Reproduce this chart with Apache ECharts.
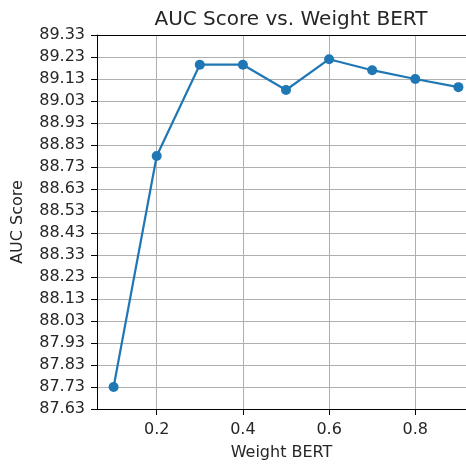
<!DOCTYPE html>
<html>
<head>
<meta charset="utf-8">
<script src="https://cdn.jsdelivr.net/npm/echarts@6/dist/echarts.min.js"></script>
<style>
  html, body { margin: 0; padding: 0; background: #fff; }
  #chart { width: 466px; height: 466px; }
</style>
</head>
<body>
<div id="chart"></div>
<script>
const weights = [0.1, 0.2, 0.3, 0.4, 0.5, 0.6, 0.7, 0.8, 0.9];
const aucScores = [87.73, 88.78, 89.195, 89.195, 89.08, 89.22, 89.17, 89.13, 89.093];
const xTicks = [0.2, 0.4, 0.6, 0.8];

const font = 'DejaVu Sans';
const gridColor = '#b0b0b0';
const textColor = '#262626';

// the plot runs past the right edge of the picture, so the x range is cut at 466px
const xMin = 0.0615;
const xMax = 0.9176;

const chart = echarts.init(document.getElementById('chart'));

const option = {
  animation: false,
  title: {
    text: 'AUC Score vs. Weight BERT',
    left: 286,
    top: 5,
    textAlign: 'center',
    textStyle: { fontFamily: font, fontSize: 20, fontWeight: 'normal', color: textColor }
  },
  grid: {
    left: 97,
    top: 35,
    right: 0,
    bottom: 57,
    containLabel: false
  },
  xAxis: [{
    type: 'value',
    min: xMin,
    max: xMax,
    name: 'Weight BERT',
    nameLocation: 'middle',
    nameGap: 36,
    nameTextStyle: { fontFamily: font, fontSize: 16, color: textColor },
    axisLine: { lineStyle: { color: '#000', width: 1 } },
    axisTick: { show: true, inside: false, length: 6, customValues: xTicks, lineStyle: { color: '#000' } },
    axisLabel: {
      customValues: xTicks,
      margin: 13,
      fontFamily: font, fontSize: 16, color: textColor,
      formatter: v => v.toFixed(1)
    },
    splitLine: { show: true, lineStyle: { color: gridColor, width: 1 } }
  }, {
    // top spine only
    type: 'value',
    position: 'top',
    min: xMin,
    max: xMax,
    axisLine: { show: true, lineStyle: { color: '#000', width: 1 } },
    axisTick: { show: false },
    axisLabel: { show: false },
    splitLine: { show: false }
  }],
  yAxis: {
    type: 'value',
    min: 87.63,
    max: 89.33,
    interval: 0.1,
    name: 'AUC Score',
    nameLocation: 'middle',
    nameGap: 71,
    nameTextStyle: { fontFamily: font, fontSize: 16, color: textColor },
    axisLine: { show: true, lineStyle: { color: '#000', width: 1 } },
    axisTick: { show: true, length: 6, lineStyle: { color: '#000' } },
    axisLabel: {
      margin: 12,
      fontFamily: font, fontSize: 16, color: textColor,
      formatter: v => v.toFixed(2)
    },
    splitLine: { show: true, lineStyle: { color: gridColor, width: 1 } }
  },
  series: [{
    type: 'line',
    data: weights.map((w, i) => [w, aucScores[i]]),
    symbol: 'circle',
    symbolSize: 10,
    lineStyle: { color: '#1f77b4', width: 2.2 },
    itemStyle: { color: '#1f77b4' },
    clip: false
  }]
};

chart.setOption(option);
</script>
</body>
</html>
